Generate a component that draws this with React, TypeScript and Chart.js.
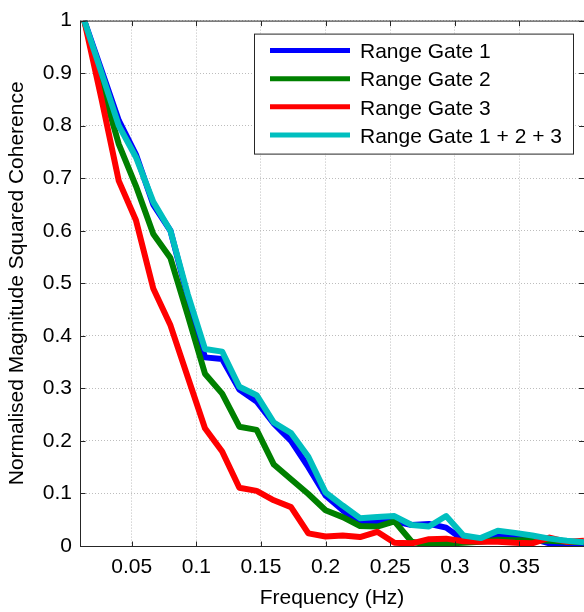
import React, { useEffect, useRef } from 'react';
import { Chart, registerables } from 'chart.js';

Chart.register(...registerables);

const FONT = '"Liberation Sans", Arial, Helvetica, sans-serif';

// Frequency bins (Hz)
const frequencies = [
  0.0133, 0.0267, 0.04, 0.0533, 0.0667, 0.08, 0.0933, 0.1067, 0.12, 0.1333,
  0.1467, 0.16, 0.1733, 0.1867, 0.2, 0.2133, 0.2267, 0.24, 0.2533, 0.2667,
  0.28, 0.2933, 0.3067, 0.32, 0.3333, 0.3467, 0.36, 0.3733, 0.3867, 0.4,
];

const rangeGate1 = [
  1.0, 0.905, 0.81, 0.745, 0.65, 0.6, 0.475, 0.359, 0.356, 0.298,
  0.275, 0.233, 0.2, 0.15, 0.096, 0.068, 0.044, 0.045, 0.047, 0.04,
  0.042, 0.035, 0.012, 0.011, 0.023, 0.019, 0.014, 0.005, 0.002, 0.001,
];

const rangeGate2 = [
  1.0, 0.88, 0.765, 0.685, 0.594, 0.548, 0.44, 0.328, 0.29, 0.227,
  0.221, 0.155, 0.127, 0.099, 0.068, 0.055, 0.038, 0.037, 0.047, 0.008,
  0.002, 0.005, 0.006, 0.008, 0.012, 0.011, 0.011, 0.01, 0.008, 0.007,
];

const rangeGate3 = [
  1.0, 0.85, 0.695, 0.62, 0.49, 0.42, 0.322, 0.224, 0.18, 0.111,
  0.105, 0.087, 0.074, 0.024, 0.018, 0.02, 0.017, 0.027, 0.006, 0.005,
  0.013, 0.014, 0.009, 0.008, 0.008, 0.006, 0.005, 0.016, 0.008, 0.01,
];

const rangeGateAll = [
  1.0, 0.9, 0.8, 0.74, 0.655, 0.6, 0.48, 0.375, 0.37, 0.303,
  0.287, 0.235, 0.215, 0.17, 0.102, 0.077, 0.053, 0.055, 0.057, 0.04,
  0.037, 0.057, 0.02, 0.015, 0.029, 0.025, 0.02, 0.014, 0.01, 0.007,
];

const seriesNames = ['Range Gate 1', 'Range Gate 2', 'Range Gate 3', 'Range Gate 1 + 2 + 3'];
const seriesColors = ['#0000ff', '#008000', '#ff0000', '#00bfbf'];

const xTickValues = [0.05, 0.1, 0.15, 0.2, 0.25, 0.3, 0.35];
const xTickLabels = ['0.05', '0.1', '0.15', '0.2', '0.25', '0.3', '0.35'];
const yTickValues = [0, 0.1, 0.2, 0.3, 0.4, 0.5, 0.6, 0.7, 0.8, 0.9, 1];
const yTickLabels = ['0', '0.1', '0.2', '0.3', '0.4', '0.5', '0.6', '0.7', '0.8', '0.9', '1'];

const xTitle = 'Frequency (Hz)';
const yTitle = 'Normalised Magnitude Squared Coherence';

const frameLegendPlugin = {
  id: 'frameLegend',
  afterDraw(chart: any) {
    const { ctx, chartArea: a, scales } = chart;
    ctx.save();
    // axes box
    ctx.strokeStyle = '#262626';
    ctx.lineWidth = 1;
    ctx.setLineDash([]);
    ctx.strokeRect(a.left + 0.5, a.top + 0.5, a.right - a.left, a.bottom - a.top);
    // inward tick marks
    const tl = 5;
    ctx.beginPath();
    xTickValues.forEach((v) => {
      const x = Math.round(scales.x.getPixelForValue(v)) + 0.5;
      ctx.moveTo(x, a.bottom + 0.5);
      ctx.lineTo(x, a.bottom + 0.5 - tl);
      ctx.moveTo(x, a.top + 0.5);
      ctx.lineTo(x, a.top + 0.5 + tl);
    });
    yTickValues.forEach((v) => {
      const y = Math.round(scales.y.getPixelForValue(v)) + 0.5;
      ctx.moveTo(a.left + 0.5, y);
      ctx.lineTo(a.left + 0.5 + tl, y);
      ctx.moveTo(a.right, y);
      ctx.lineTo(a.right - tl, y);
    });
    ctx.stroke();

    // legend box
    const w = 319;
    const h = 120;
    const x0 = a.right - 330;
    const y0 = a.top + 13;
    ctx.fillStyle = '#ffffff';
    ctx.fillRect(x0, y0, w, h);
    ctx.strokeStyle = '#262626';
    ctx.strokeRect(x0 + 0.5, y0 + 0.5, w, h);
    ctx.font = `21px ${FONT}`;
    ctx.textBaseline = 'middle';
    ctx.textAlign = 'left';
    chart.data.datasets.forEach((ds: any, i: number) => {
      const yy = y0 + 17 + i * 28.1;
      ctx.strokeStyle = ds.borderColor;
      ctx.lineWidth = 5;
      ctx.beginPath();
      ctx.moveTo(x0 + 16, yy);
      ctx.lineTo(x0 + 96, yy);
      ctx.stroke();
      ctx.fillStyle = '#000000';
      ctx.fillText(ds.label, x0 + 106, yy + 2);
    });
    ctx.restore();
  },
};

export default function App() {
  const canvasRef = useRef<HTMLCanvasElement | null>(null);

  useEffect(() => {
    const canvas = canvasRef.current;
    if (!canvas) return;
    const seriesValues = [rangeGate1, rangeGate2, rangeGate3, rangeGateAll];
    const datasets = seriesValues.map((vals, i) => ({
      label: seriesNames[i],
      data: frequencies.map((f, j) => ({ x: f, y: vals[j] })),
      borderColor: seriesColors[i],
      backgroundColor: seriesColors[i],
      borderWidth: 6,
      pointRadius: 0,
      tension: 0,
      borderJoinStyle: 'round' as const,
      fill: false,
      order: seriesValues.length - i,
    }));

    const chart = new Chart(canvas, {
      type: 'line',
      data: { datasets },
      plugins: [frameLegendPlugin],
      options: {
        animation: false,
        responsive: false,
        devicePixelRatio: 1,
        layout: { padding: { top: 14, right: 0, left: 0, bottom: 0 } },
        plugins: {
          legend: { display: false },
          tooltip: { enabled: false },
          title: { display: false },
        },
        scales: {
          x: {
            type: 'linear',
            min: 0.01,
            max: 0.4,
            afterBuildTicks: (scale: any) => {
              scale.ticks = xTickValues.map((v) => ({ value: v }));
            },
            afterFit: (scale: any) => {
              scale.height = 66;
            },
            ticks: {
              color: '#000',
              font: { family: FONT, size: 21 },
              padding: 9,
              maxRotation: 0,
              autoSkip: false,
              callback: (v: any, idx: number) => xTickLabels[idx],
            },
            grid: { color: '#bdbdbd', lineWidth: 1, drawTicks: false },
            border: { display: false, dash: [1, 2] },
            title: {
              display: true,
              text: xTitle,
              color: '#000',
              font: { family: FONT, size: 21 },
              padding: { top: 0, bottom: 1 },
            },
          },
          y: {
            type: 'linear',
            min: 0,
            max: 1,
            afterBuildTicks: (scale: any) => {
              scale.ticks = yTickValues.map((v) => ({ value: v }));
            },
            afterFit: (scale: any) => {
              scale.width = 80;
            },
            ticks: {
              color: '#000',
              font: { family: FONT, size: 21 },
              padding: 8,
              autoSkip: false,
              callback: (v: any, idx: number) => yTickLabels[idx],
            },
            grid: { color: '#bdbdbd', lineWidth: 1, drawTicks: false },
            border: { display: false, dash: [1, 2] },
            title: {
              display: true,
              text: yTitle,
              color: '#000',
              font: { family: FONT, size: 21 },
              padding: { top: 5, bottom: 0 },
            },
          },
        },
      },
    });
    return () => chart.destroy();
  }, []);

  return (
    <div style={{ position: 'absolute', left: 0, top: 0, width: 584, height: 612, background: '#fff' }}>
      <canvas ref={canvasRef} width={584} height={612} style={{ display: 'block' }} />
    </div>
  );
}
